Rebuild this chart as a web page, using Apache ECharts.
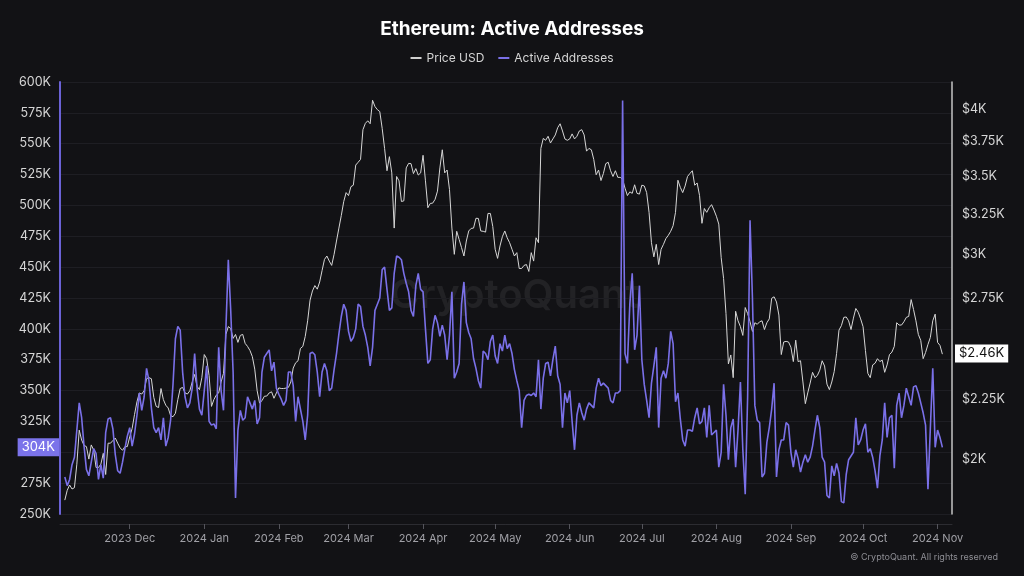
<!DOCTYPE html>
<html><head><meta charset="utf-8">
<script src="https://cdn.jsdelivr.net/npm/echarts@6/dist/echarts.min.js"></script>
<style>html,body{margin:0;padding:0;background:#121215;}#c{width:1024px;height:576px;}</style>
</head><body><div id="c"></div>
<script>
// x axis: daily categories from 2023-11-02 to 2024-11-07, data begins 2023-11-04
const axisStartUTC = Date.UTC(2023, 10, 2);
const axisDays = 372;
const dataStartOffset = 2;
const monthNames = ['Jan','Feb','Mar','Apr','May','Jun','Jul','Aug','Sep','Oct','Nov','Dec'];

// Active addresses (thousands)
const activeAddresses = [
280,273,278,290,296,318,340,328,305,286,
281,292,303,299,278,290,279,316,327,328,
319,298,285,283,292,303,313,320,305,315,
330,348,334,345,368,358,336,320,316,320,
310,328,305,312,326,355,392,402,399,365,
345,336,340,352,380,352,335,330,350,370,
325,322,323,319,385,350,334,400,456,415,
365,263,318,334,326,328,345,340,335,342,
323,328,365,377,380,383,366,373,352,347,
343,338,342,365,365,354,325,345,335,325,
310,330,380,381,379,365,345,365,372,366,
350,352,367,380,396,410,420,415,398,390,
393,400,420,418,402,395,385,370,385,415,
420,425,448,450,432,415,417,445,459,458,
456,445,437,430,415,410,435,445,432,430,
400,372,375,400,411,405,394,403,395,375,
395,430,360,365,372,420,438,405,397,392,
376,368,358,352,382,380,375,390,395,378,
372,388,382,395,384,388,380,367,358,350,
320,342,346,347,346,348,345,375,335,360,
372,373,362,375,386,362,355,320,348,340,
350,325,302,330,340,332,326,335,340,338,
336,352,360,354,356,354,352,342,340,348,
348,350,585,380,372,420,445,383,395,435,
375,355,342,328,356,370,385,320,360,366,
360,372,398,388,341,348,327,310,305,318,
318,317,328,336,323,325,336,312,338,314,
316,318,288,300,355,330,294,320,327,288,
318,357,302,266,345,488,425,338,326,324,
280,283,308,320,335,356,280,302,310,310,
324,322,300,288,302,295,284,292,298,292,
296,305,318,330,320,296,292,265,263,289,
281,291,283,260,259,282,294,297,300,328,
306,310,318,323,300,303,296,285,271,297,
310,340,312,328,330,287,338,348,328,338,
352,345,338,353,354,348,340,332,322,270,
320,368,304,318,312,304
];

// ETH price (USD)
const priceUSD = [
1844,1880,1900,1885,1890,1980,2118,2077,2055,2050,
2000,2057,2036,1967,1967,1980,2023,1940,2064,2064,
2075,2085,2064,2045,2035,2050,2050,2090,2125,2185,
2240,2280,2275,2290,2345,2350,2345,2260,2220,2215,
2300,2250,2225,2213,2180,2175,2190,2250,2300,2305,
2280,2275,2290,2330,2365,2310,2295,2350,2460,2440,
2360,2220,2250,2270,2280,2330,2370,2560,2600,2590,
2540,2560,2520,2555,2560,2515,2500,2480,2450,2390,
2290,2235,2245,2265,2266,2280,2285,2256,2280,2303,
2300,2300,2302,2305,2330,2395,2420,2430,2490,2500,
2550,2630,2740,2790,2820,2800,2840,2905,2970,2990,
2960,2935,3000,3080,3160,3240,3330,3390,3370,3430,
3440,3580,3600,3620,3840,3888,3908,3885,4070,4020,
3995,3980,3850,3700,3540,3640,3525,3160,3500,3470,
3331,3335,3560,3592,3590,3520,3555,3510,3525,3650,
3470,3290,3318,3320,3345,3400,3560,3690,3525,3545,
3410,3160,3000,3140,3090,3040,2990,3080,3142,3158,
3160,3222,3221,3142,3140,3135,3253,3253,3170,3030,
2976,3050,3107,3142,3100,3070,3030,2990,3010,2917,
2917,2935,2940,2900,3010,2960,3100,3070,3700,3774,
3760,3790,3740,3770,3800,3855,3885,3830,3770,3760,
3770,3808,3770,3790,3830,3840,3800,3680,3700,3690,
3620,3512,3545,3472,3520,3590,3600,3540,3500,3540,
3494,3494,3480,3420,3370,3395,3385,3443,3385,3380,
3440,3435,3390,3260,3070,2985,3060,2940,3030,3060,
3095,3115,3140,3175,3260,3474,3425,3390,3435,3500,
3521,3540,3440,3455,3370,3190,3285,3260,3290,3310,
3275,3235,3185,2980,2860,2668,2415,2458,2350,2680,
2630,2600,2555,2700,2668,2625,2575,2620,2612,2625,
2630,2585,2620,2640,2750,2758,2730,2660,2460,2522,
2525,2522,2496,2426,2531,2426,2430,2330,2232,2280,
2325,2375,2350,2360,2385,2430,2405,2320,2295,2330,
2378,2465,2582,2605,2648,2650,2630,2585,2644,2695,
2675,2640,2600,2480,2370,2350,2410,2418,2440,2426,
2433,2375,2410,2460,2472,2500,2620,2608,2608,2625,
2648,2653,2743,2690,2630,2560,2530,2440,2470,2510,
2545,2630,2665,2520,2505,2462
];

// axis ranges and ticks
const leftMin = 250, leftMax = 600, leftStep = 25;
const priceMin = 1794, priceMax = 4220;
const priceTicks = [2000, 2250, 2750, 3000, 3250, 3500, 3750, 4000];

const dates = [];
for (let i = 0; i < axisDays; i++) {
  dates.push(new Date(axisStartUTC + i * 86400000).toISOString().slice(0, 10));
}
function placed(arr, f) {
  return dates.map((_, i) => {
    const k = i - dataStartOffset;
    return (k >= 0 && k < arr.length) ? f(arr[k]) : null;
  });
}
const activeData = placed(activeAddresses, v => v);
const priceData = placed(priceUSD, v => Math.log(v));
const lastActive = activeAddresses[activeAddresses.length - 1];
const lastPrice = priceUSD[priceUSD.length - 1];
const isMonthStart = (idx, val) => val.slice(8) === '01';
const FONT = 'Inter, "Noto Sans", sans-serif';

const chart = echarts.init(document.getElementById('c'), null, {renderer: 'canvas'});
chart.setOption({
  animation: false,
  backgroundColor: '#121215',
  textStyle: {fontFamily: FONT},
  title: {
    text: 'Ethereum: Active Addresses', left: 'center', top: 20, padding: 0,
    textStyle: {color: '#ffffff', fontSize: 19, fontWeight: 'bold', fontFamily: FONT}
  },
  legend: {
    top: 47, left: 'center', itemGap: 14, itemWidth: 11, itemHeight: 2, icon: 'rect',
    textStyle: {color: '#d4d4d4', fontSize: 12, fontFamily: FONT},
    data: ['Price USD', 'Active Addresses']
  },
  grid: {left: 60, right: 72, top: 82, bottom: 62, containLabel: false},
  xAxis: {
    type: 'category', data: dates, boundaryGap: false, offset: 10,
    axisLine: {show: true, lineStyle: {color: '#2c2c31', width: 1}},
    axisTick: {show: true, interval: isMonthStart, length: 5, lineStyle: {color: '#55555c'}},
    axisLabel: {
      interval: isMonthStart, color: '#a0a0a6', fontSize: 11, margin: 9, fontFamily: FONT,
      formatter: v => v.slice(0, 4) + ' ' + monthNames[parseInt(v.slice(5, 7), 10) - 1]
    },
    splitLine: {show: false}
  },
  yAxis: [
    {
      type: 'value', min: leftMin, max: leftMax, interval: leftStep, position: 'left',
      axisLine: {show: true, lineStyle: {color: '#6b62d6', width: 2}},
      axisTick: {show: false},
      axisLabel: {color: '#d6d6d6', fontSize: 12.5, margin: 9, fontFamily: FONT, formatter: v => v + 'K'},
      splitLine: {show: true, lineStyle: {color: '#1e1e23', width: 1}}
    },
    {
      type: 'value', min: Math.log(priceMin), max: Math.log(priceMax), position: 'right',
      axisLine: {show: true, lineStyle: {color: '#c4c4c4', width: 1.5}},
      axisTick: {show: false},
      axisLabel: {
        color: '#d6d6d6', fontSize: 12.5, margin: 10, fontFamily: FONT,
        customValues: priceTicks.map(p => Math.log(p)),
        formatter: v => '$' + (Math.round(Math.exp(v) / 10) * 10 / 1000) + 'K'
      },
      splitLine: {show: false}
    }
  ],
  series: [
    {
      name: 'Price USD', type: 'line', yAxisIndex: 1, data: priceData,
      showSymbol: false, symbol: 'none', color: '#cfcfcf',
      lineStyle: {color: '#d6d6d6', width: 1}, z: 2,
      markLine: {
        silent: true, symbol: ['none', 'none'],
        lineStyle: {color: 'transparent', width: 0},
        data: [{yAxis: Math.log(lastPrice)}],
        label: {
          position: 'end', distance: 3, formatter: '$' + (Math.round(lastPrice / 10) / 100) + 'K',
          color: '#111111', backgroundColor: '#ffffff', padding: [3, 4, 2, 4],
          fontSize: 13, fontFamily: FONT
        }
      }
    },
    {
      name: 'Active Addresses', type: 'line', yAxisIndex: 0, data: activeData,
      showSymbol: false, symbol: 'none', color: '#7a70e6',
      lineStyle: {color: '#7a70e8', width: 1.6}, z: 3,
      markLine: {
        silent: true, symbol: ['none', 'none'],
        lineStyle: {color: 'transparent', width: 0},
        data: [{yAxis: lastActive}],
        label: {
          position: 'start', distance: 1, formatter: lastActive + 'K',
          color: '#ffffff', backgroundColor: '#7b73ea', padding: [3, 4, 2, 4],
          fontSize: 13, fontFamily: FONT
        }
      }
    }
  ],
  graphic: [
    {
      type: 'text', left: 390, top: 276, silent: true, z: 0,
      style: {text: 'CryptoQuant', fill: 'rgba(255,255,255,0.07)', font: '600 40px ' + FONT}
    },
    {
      type: 'text', right: 26, top: 553, silent: true,
      style: {text: '© CryptoQuant. All rights reserved', fill: '#8e8e94', font: '9px ' + FONT}
    }
  ]
});
</script></body></html>
